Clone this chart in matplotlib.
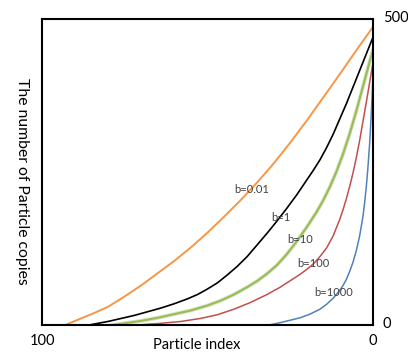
import matplotlib
matplotlib.use("Agg")
import matplotlib.pyplot as plt
import matplotlib.patheffects as pe
import matplotlib.transforms as mtransforms

plt.rcParams['font.family'] = ['Lato', 'DejaVu Sans']

# particle index vs number of copies, one curve per b value
x_b001 = [0, 5, 10, 15, 20, 25, 30, 35, 40, 45, 50, 55, 60, 65, 70, 75, 80, 85, 90, 93]
y_b001 = [487, 449, 410, 372, 334, 298, 264, 233, 204, 177, 151, 127, 105, 85, 65, 47, 30, 18, 7, 0]

x_b1 = [0, 2, 4, 6, 8, 10, 12, 14, 16, 18, 20, 23, 26, 29, 32, 35, 38, 41, 44, 47,
        50, 53, 56, 60, 64, 68, 72, 76, 80, 85]
y_b1 = [470, 443, 416, 389, 362, 337, 312, 290, 270, 253, 237, 213, 191, 170, 150, 131, 112, 96, 82, 69,
        59, 50, 43, 35, 28, 22, 16, 11, 6, 1]

x_b10 = [0, 1, 2, 3, 4, 5, 7, 9, 11, 13, 15, 17, 20, 23, 26, 29, 32, 35, 38, 42,
         46, 50, 55, 60, 65, 70, 75, 79]
y_b10 = [449, 430, 410, 390, 370, 350, 313, 280, 251, 226, 204, 185, 160, 137, 116, 98, 84, 72, 62, 50,
         40, 32, 24, 18, 12, 7, 3, 0]

x_b100 = [0, 1, 2, 3, 4, 5, 6, 7, 8, 9, 10, 12, 14, 16, 18, 20, 22, 28, 32, 37,
          42, 47, 52, 58, 65, 72]
y_b100 = [428, 396, 364, 333, 302, 274, 249, 227, 207, 189, 173, 146, 126, 112, 100, 91, 83, 62, 50, 37,
          26, 17, 11, 6, 2.5, 0]

x_b1000 = [0, 0.3, 0.6, 1, 1.5, 2, 2.5, 3, 4, 5, 6, 7, 8, 9, 10, 12, 14, 16, 19, 22,
           25, 28, 31.6]
y_b1000 = [406, 368, 334, 296, 258, 226, 200, 178, 146, 122, 103, 88, 75, 65, 57, 44, 34, 26, 18, 12,
           8, 4, 0]

labels = ['b=0.01', 'b=1', 'b=10', 'b=100', 'b=1000']
label_x = [36.6, 27.9, 22.1, 18.0, 12.0]
label_y = [221, 176, 140, 101, 54]

fig = plt.figure(figsize=(4.08, 3.53), dpi=100)
ax = fig.add_axes([0.103, 0.079, 0.811, 0.867])

ax.plot(x_b001, y_b001, color='#F79646', lw=1.4)
ax.plot(x_b1, y_b1, color='black', lw=1.2)
ax.plot(x_b10, y_b10, color='#9BBB59', lw=1.5,
        path_effects=[pe.Stroke(linewidth=2.8, foreground='#d6e5c2'), pe.Normal()])
ax.plot(x_b100, y_b100, color='#C0504D', lw=1.1)
ax.plot(x_b1000, y_b1000, color='#4F81BD', lw=1.1)

for t, lx, ly in zip(labels, label_x, label_y):
    ax.text(lx, ly, t, fontsize=8, color='#404040', ha='center', va='center')

ax.set_xlim(100, 0)
ax.set_ylim(0, 500)

ax.set_xticks([100, 0])
ax.set_xticklabels(['100', '0'])
ax.yaxis.tick_right()
ax.set_yticks([0, 500])
ax.set_yticklabels(['0', '500'])
ax.tick_params(length=0, labelsize=10.5, colors='black')
ax.tick_params(axis='x', pad=6.5)
ax.tick_params(axis='y', pad=7)

# right-hand labels sit a little above their values
shift = mtransforms.ScaledTranslation(0, 3 / 100, fig.dpi_scale_trans)
for lab in ax.get_yticklabels():
    lab.set_transform(lab.get_transform() + shift)

for s in ax.spines.values():
    s.set_linewidth(1.5)

ax.text(0.468, -0.065, 'Particle index', transform=ax.transAxes,
        ha='center', va='center', fontsize=10.5)
fig.text(22 / 408, 1 - 181 / 353, 'The number of Particle copies',
         rotation=270, ha='center', va='center', fontsize=11.3)

fig.savefig('out.png', dpi=100)
